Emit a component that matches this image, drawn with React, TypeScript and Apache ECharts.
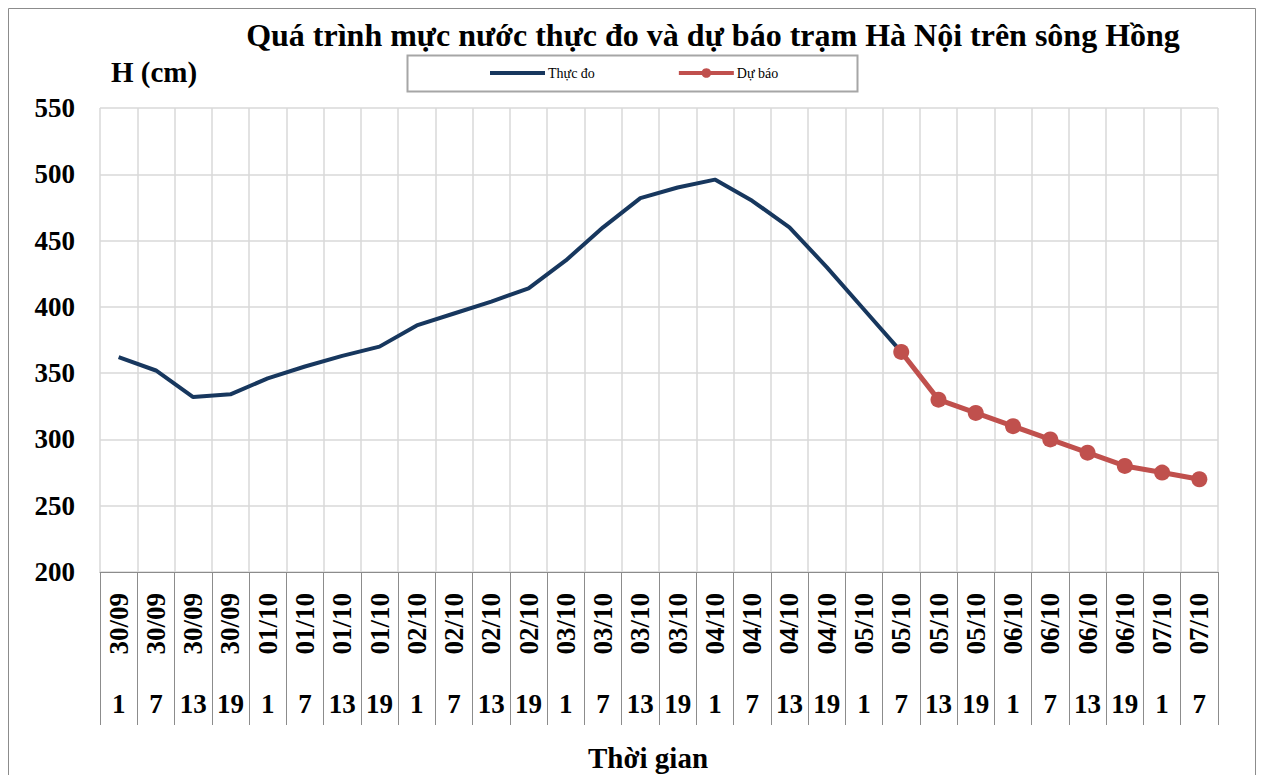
import React, { useEffect, useRef } from "react";
import * as echarts from "echarts";

const dateLabels = ["30/09","30/09","30/09","30/09","01/10","01/10","01/10","01/10","02/10","02/10","02/10","02/10","03/10","03/10","03/10","03/10","04/10","04/10","04/10","04/10","05/10","05/10","05/10","05/10","06/10","06/10","06/10","06/10","07/10","07/10"];
const hours = ["1","7","13","19","1","7","13","19","1","7","13","19","1","7","13","19","1","7","13","19","1","7","13","19","1","7","13","19","1","7"];
const observed: (number | null)[] = [362,352,332,334,346,355,363,370,386,395,404,414,435,460,482,490,496,480,460,430,398,366,null,null,null,null,null,null,null,null];
const forecast: (number | null)[] = [null,null,null,null,null,null,null,null,null,null,null,null,null,null,null,null,null,null,null,null,null,366,330,320,310,300,290,280,275,270];

const FONT = '"Liberation Serif", "Times New Roman", serif';

export default function App() {
  const ref = useRef<HTMLDivElement>(null);
  useEffect(() => {
    if (!ref.current) return;
    const chart = echarts.init(ref.current, undefined, { renderer: "svg" });
    chart.setOption({
      animation: false,
      backgroundColor: "#fff",
      textStyle: { fontFamily: FONT },
      grid: { left: 100, right: 44, top: 108, bottom: 203, containLabel: false },
      graphic: [
        { type: "rect", shape: { x: 8.5, y: 8.5, width: 1247, height: 800 }, style: { fill: "none", stroke: "#8c8c8c", lineWidth: 1 }, silent: true },
        { type: "rect", shape: { x: 407.5, y: 55.5, width: 450, height: 36 }, style: { fill: "#fff", stroke: "#a6a6a6", lineWidth: 2 }, silent: true, z: -1 },
        { type: "text", x: 713, y: 35, style: { text: "Quá trình mực nước thực đo và dự báo trạm Hà Nội trên sông Hồng", font: `bold 32px ${FONT}`, fill: "#000", align: "center", verticalAlign: "middle" } },
        { type: "text", x: 111, y: 72, style: { text: "H (cm)", font: `bold 29px ${FONT}`, fill: "#000", align: "left", verticalAlign: "middle" } },
        { type: "text", x: 648, y: 758, style: { text: "Thời gian", font: `bold 29px ${FONT}`, fill: "#000", align: "center", verticalAlign: "middle" } },
      ],
      legend: {
        left: 490,
        top: 66,
        padding: 0,
        itemWidth: 55,
        itemHeight: 12,
        itemGap: 82,
        textStyle: { fontFamily: FONT, fontSize: 14, color: "#000", padding: [0, 0, 0, -2] },
        data: [
          { name: "Thực đo", icon: "path://M0,0H55V4H0Z" },
          { name: "Dự báo", lineStyle: { width: 4 } },
        ],
      },
      xAxis: [
        {
          type: "category",
          data: dateLabels,
          position: "bottom",
          boundaryGap: true,
          axisLine: { show: true, lineStyle: { color: "#8c8c8c", width: 1 } },
          axisTick: { show: true, interval: 0, length: 153, lineStyle: { color: "#8c8c8c", width: 1 } },
          splitLine: { show: true, interval: 0, lineStyle: { color: "#d9d9d9", width: 1.5 } },
          axisLabel: { interval: 0, rotate: 90, margin: 21, fontFamily: FONT, fontWeight: "bold", fontSize: 27, color: "#000" },
        },
        {
          type: "category",
          data: hours,
          position: "bottom",
          boundaryGap: true,
          axisLine: { show: false },
          axisTick: { show: false },
          splitLine: { show: false },
          axisLabel: { interval: 0, margin: 118, fontFamily: FONT, fontWeight: "bold", fontSize: 27, color: "#000" },
        },
      ],
      yAxis: {
        type: "value",
        min: 200,
        max: 550,
        interval: 50,
        axisLine: { show: false },
        axisTick: { show: false },
        splitLine: { show: true, lineStyle: { color: "#d9d9d9", width: 1.5 } },
        axisLabel: { margin: 25, fontFamily: FONT, fontWeight: "bold", fontSize: 27, color: "#000" },
      },
      series: [
        {
          name: "Thực đo",
          type: "line",
          xAxisIndex: 0,
          data: observed,
          symbol: "none",
          lineStyle: { color: "#17375e", width: 4 },
          itemStyle: { color: "#17375e" },
          z: 2,
        },
        {
          name: "Dự báo",
          type: "line",
          xAxisIndex: 0,
          data: forecast,
          symbol: "circle",
          symbolSize: 16,
          lineStyle: { color: "#c0504d", width: 5 },
          itemStyle: { color: "#c0504d" },
          z: 3,
        },
      ],
    });
    return () => chart.dispose();
  }, []);
  return <div ref={ref} style={{ width: 1262, height: 775, position: "absolute", left: 0, top: 0 }} />;
}
